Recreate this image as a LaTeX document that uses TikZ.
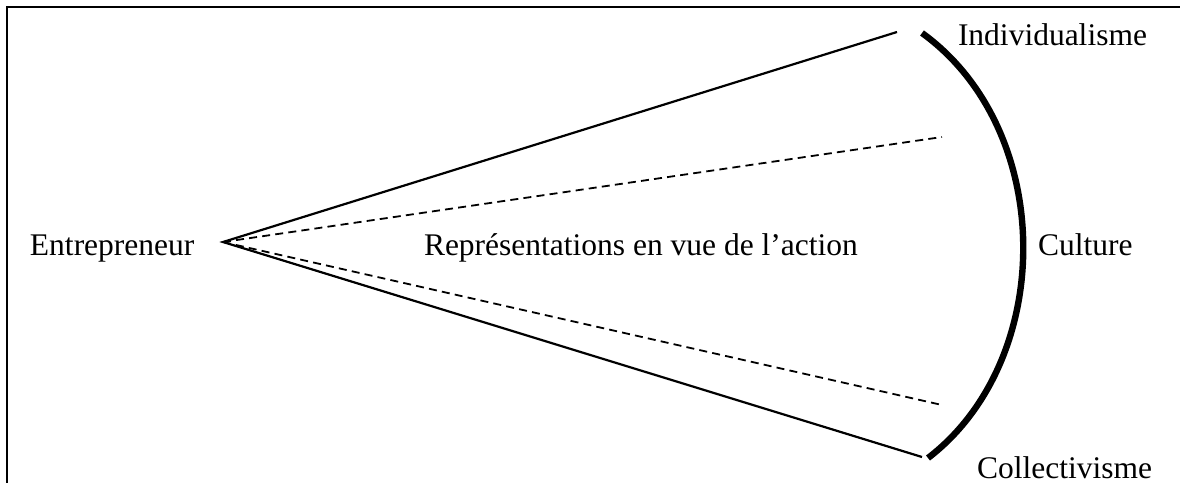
\documentclass[tikz,border=0pt]{standalone}
\usepackage{fontspec}
\setmainfont{Liberation Serif}
\usetikzlibrary{positioning}

\begin{document}
\begin{tikzpicture}[x=0.5pt, y=-0.5pt, line width=1pt,
      every node/.append style={inner sep=0pt, font=\fontsize{15.75}{19}\selectfont},
      trait/.style={line width=1.1pt},
      pointille/.style={line width=0.9pt, dash pattern=on 4pt off 2.6pt},
      arc/.style={line width=3.2pt}]
      \useasboundingbox (0,0) rectangle (1180,483);
      % cadre
      \draw[line width=1.1pt] (1180,7) -- (7,7) -- (7,483);
      % textes
      \node (entrepreneur) [anchor=base west] at (29,255) {Entrepreneur};
      \node (rep) [anchor=base west] at (423,255) {Représentations en vue de l’action};
      \node (culture) [anchor=base west] at (1037,255) {Culture};
      \node (individualisme) [anchor=base west] at (957,45) {Individualisme};
      \node (collectivisme) [anchor=base west] at (976,478) {Collectivisme};
      % sommet et extremites
      \coordinate (apex) at (223,242);
      \coordinate (hautplein) at (897,32);
      \coordinate (hautpointille) at (942,137);
      \coordinate (baspointille) at (942,405);
      \coordinate (basplein) at (922,457);
      \coordinate (archaut) at (922,33);
      \coordinate (arcbas) at (928,458);
      \draw[trait] (hautplein) -- (apex) -- (basplein);
      \draw[pointille] (apex) -- (hautpointille);
      \draw[pointille] (apex) -- (baspointille);
      \draw[arc] (archaut) .. controls (1056,130) and (1056,360) .. (arcbas);
\end{tikzpicture}
\end{document}
